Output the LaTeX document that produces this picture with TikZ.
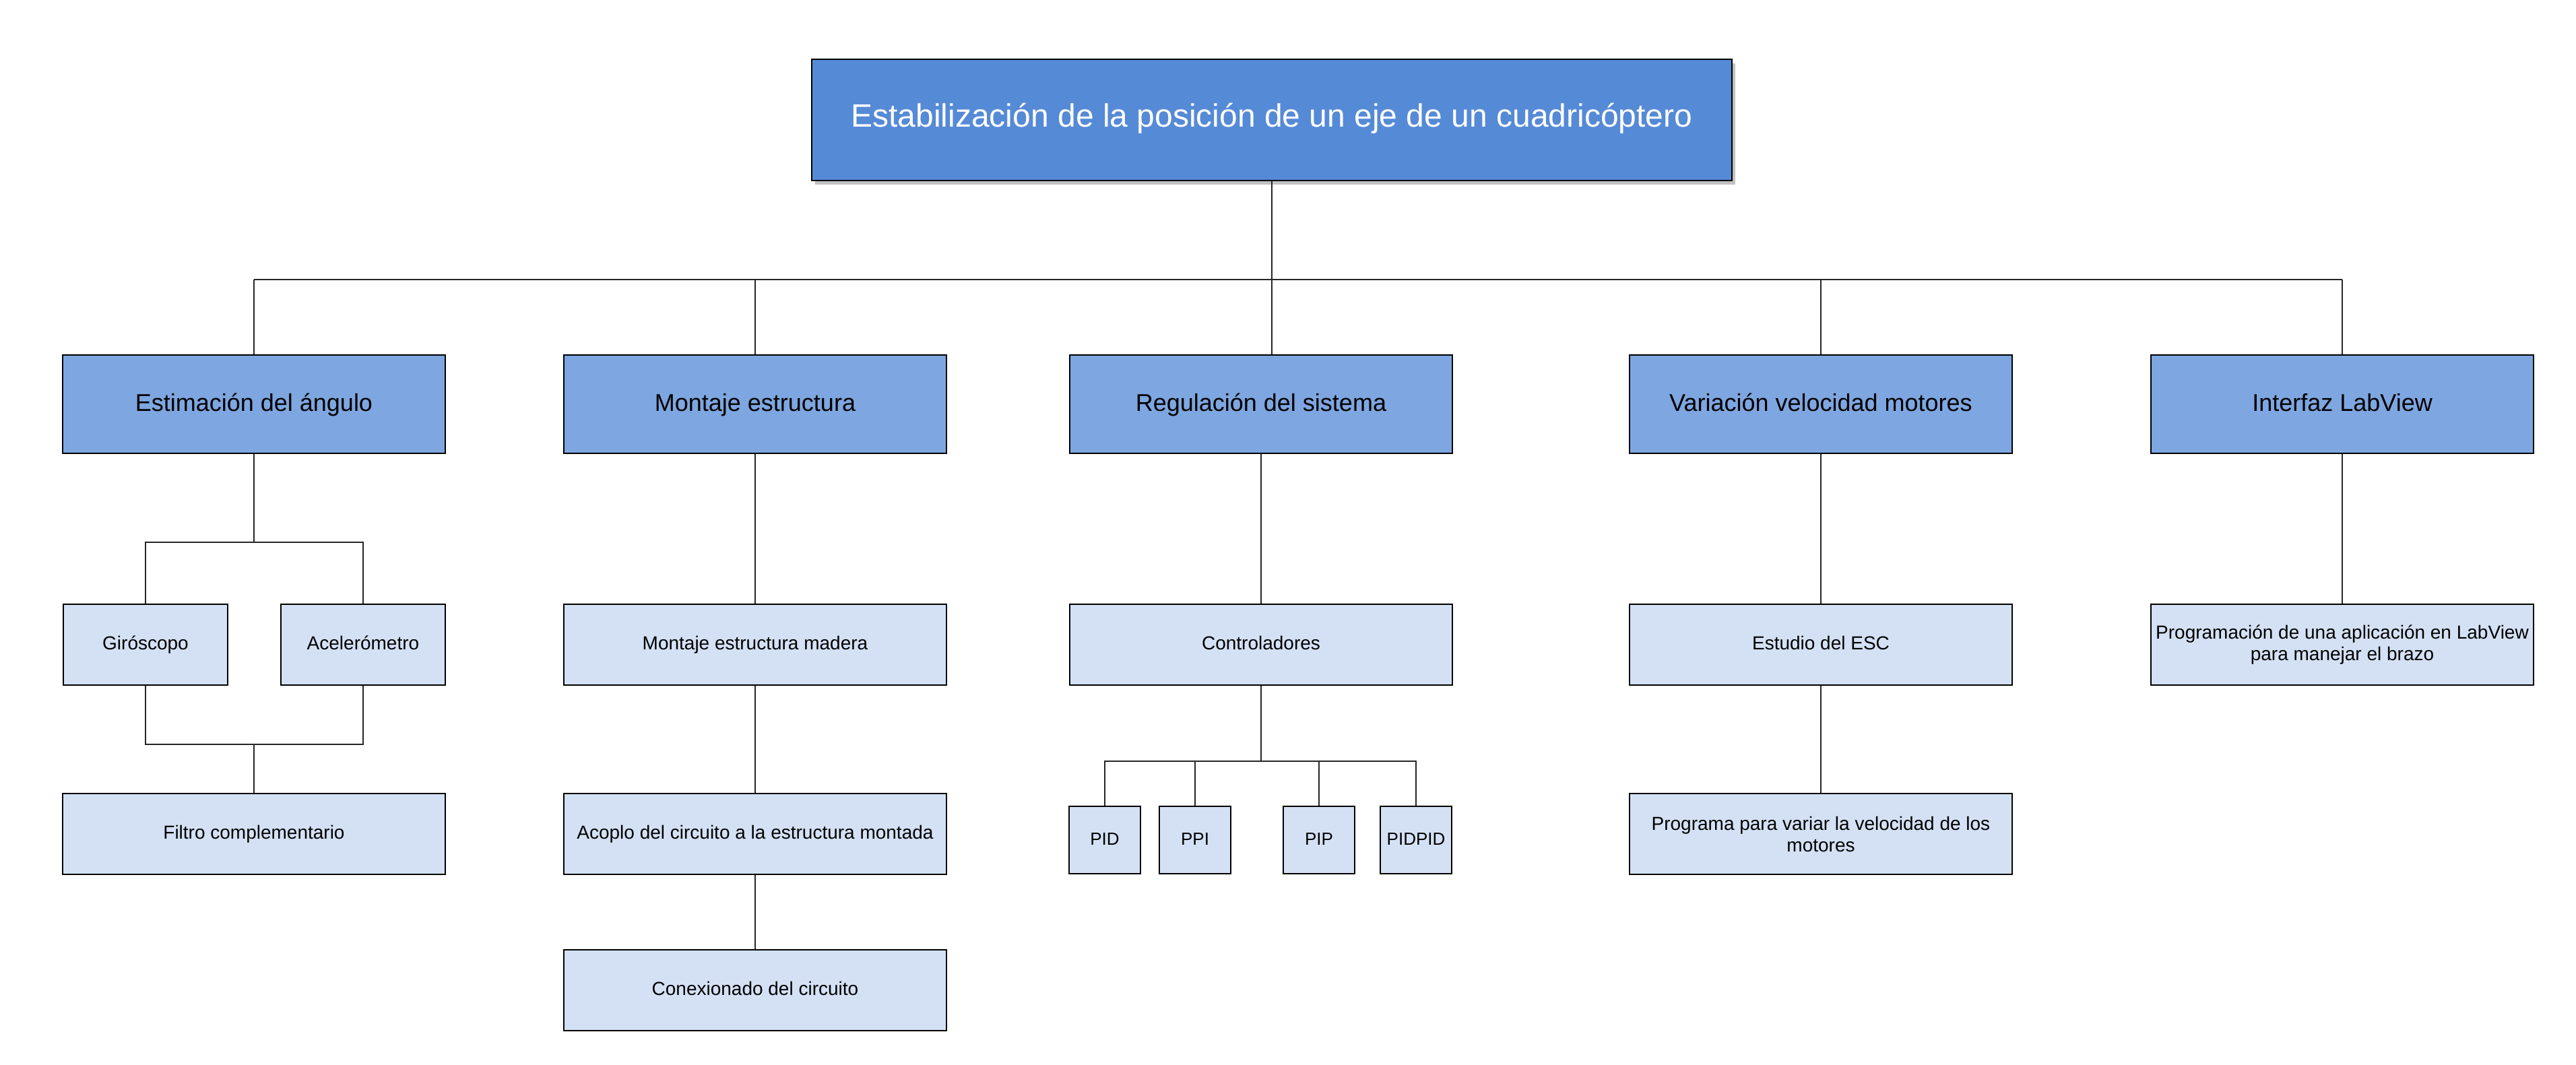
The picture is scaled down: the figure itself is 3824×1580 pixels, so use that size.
\documentclass[tikz,border=0pt]{standalone}
\usepackage{fontspec}
\setmainfont{Liberation Sans}
\usetikzlibrary{shadows}
\definecolor{cTop}{RGB}{85,138,215}
\definecolor{cMid}{RGB}{126,166,224}
\definecolor{cLow}{RGB}{212,225,244}
\begin{document}
\begin{tikzpicture}[x=0.5pt,y=-0.5pt,
  box/.style={draw=black, line width=0.9pt, inner sep=0pt, align=center},
  oneline/.style={text height=0.9em, text depth=0.2em},
  bigline/.style={text height=1.1em, text depth=0.1em},
  topbox/.style={box, bigline, fill=cTop, text=white, minimum width=683pt, minimum height=90pt,
     font=\fontsize{24}{29}\selectfont,
     drop shadow={shadow xshift=2.5pt, shadow yshift=-3pt, opacity=0.35, fill=black!70}},
  midbox/.style={box, bigline, fill=cMid, minimum width=284pt, minimum height=73pt, font=\fontsize{18}{22}\selectfont},
  lowbox/.style={box, fill=cLow, minimum width=284pt, minimum height=60pt, font=\fontsize{14}{16}\selectfont},
  smallbox/.style={box, oneline, fill=cLow, minimum width=122pt, minimum height=60pt, font=\fontsize{14}{16}\selectfont},
  pidbox/.style={box, oneline, fill=cLow, minimum width=53pt, minimum height=50pt, font=\fontsize{13}{16}\selectfont},
  link/.style={draw=black!85, line width=0.8pt}
]
\useasboundingbox (0,0) rectangle (3824,1580);

% top
\node[topbox] (top) at (1888,178) {Estabilización de la posición de un eje de un cuadricóptero};

% level 2
\node[midbox] (e) at (377,600) {Estimación del ángulo};
\node[midbox] (m) at (1121,600) {Montaje estructura};
\node[midbox] (r) at (1872,600) {Regulación del sistema};
\node[midbox] (v) at (2703,600) {Variación velocidad motores};
\node[midbox] (i) at (3477,600) {Interfaz LabView};

% level 3
\node[smallbox] (gyro) at (216,957) {Giróscopo};
\node[smallbox] (acc) at (539,957) {Acelerómetro};
\node[lowbox, oneline] (mm) at (1121,957) {Montaje estructura madera};
\node[lowbox, oneline] (ctrl) at (1872,957) {Controladores};
\node[lowbox, oneline] (esc) at (2703,957) {Estudio del ESC};
\node[lowbox] (prog) at (3477,957) {Programación de una aplicación en LabView\\para manejar el brazo};

% level 4
\node[lowbox, oneline] (filt) at (377,1238) {Filtro complementario};
\node[lowbox, oneline] (acop) at (1121,1238) {Acoplo del circuito a la estructura montada};
\node[lowbox] (progv) at (2703,1238) {Programa para variar la velocidad de los\\motores};
\node[pidbox] (pid) at (1640,1247) {PID};
\node[pidbox] (ppi) at (1774,1247) {PPI};
\node[pidbox] (pip) at (1958,1247) {PIP};
\node[pidbox] (pidpid) at (2102,1247) {PIDPID};

% level 5
\node[lowbox, oneline] (con) at (1121,1470) {Conexionado del circuito};

% top connectors
\coordinate (hb) at (1888,415);
\draw[link] (top.south) -- (top.south |- r.north);
\draw[link] (e.north |- hb) -- (i.north |- hb);
\draw[link] (e.north |- hb) -- (e.north);
\draw[link] (m.north |- hb) -- (m.north);
\draw[link] (v.north |- hb) -- (v.north);
\draw[link] (i.north |- hb) -- (i.north);

% estimacion
\coordinate (eh) at (377,805);
\coordinate (el) at (377,1105);
\draw[link] (e.south) -- (eh);
\draw[link] (gyro.north) |- (eh) -| (acc.north);
\draw[link] (gyro.south) |- (el) -| (acc.south);
\draw[link] (el) -- (filt.north);

% montaje
\draw[link] (m.south) -- (mm.north);
\draw[link] (mm.south) -- (acop.north);
\draw[link] (acop.south) -- (con.north);

% regulacion
\coordinate (ch) at (1872,1130);
\draw[link] (r.south) -- (ctrl.north);
\draw[link] (ctrl.south) -- (ch);
\draw[link] (pid.north) |- (ch) -| (pidpid.north);
\draw[link] (ppi.north) -- (ppi.north |- ch);
\draw[link] (pip.north) -- (pip.north |- ch);

% variacion
\draw[link] (v.south) -- (esc.north);
\draw[link] (esc.south) -- (progv.north);

% interfaz
\draw[link] (i.south) -- (prog.north);
\end{tikzpicture}
\end{document}
